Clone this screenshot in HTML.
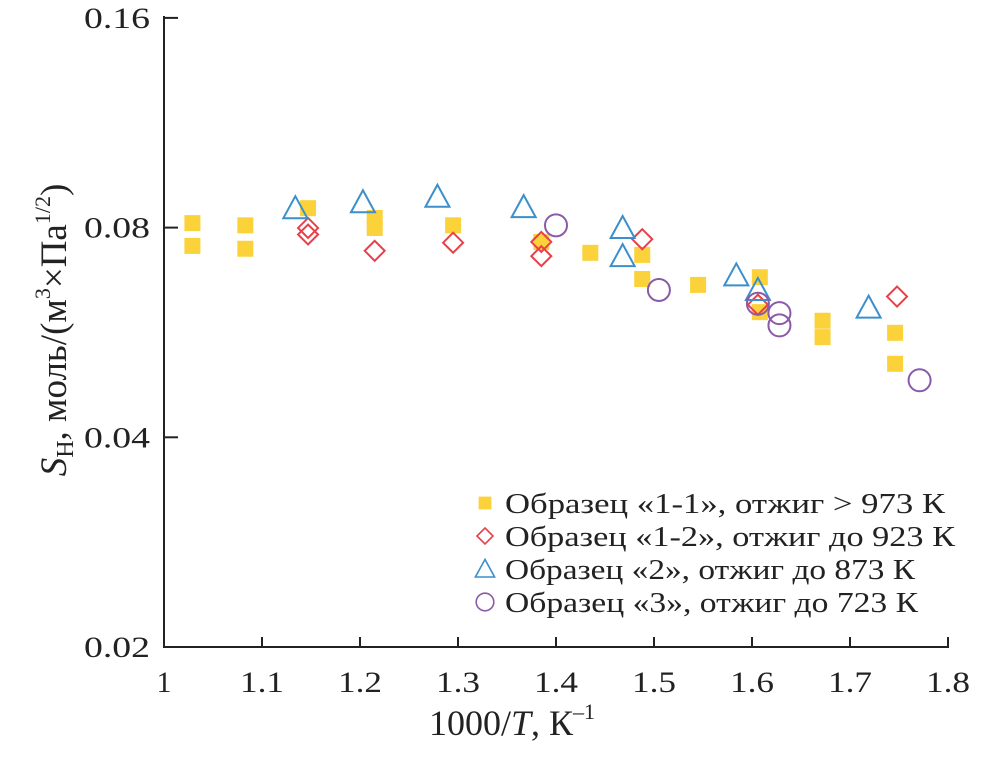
<!DOCTYPE html>
<html><head><meta charset="utf-8"><style>
body{margin:0;background:#fff}
svg text{font-family:"Liberation Serif",serif;fill:#222}
</style></head><body>
<svg id="c" width="1004" height="765"></svg>
<script>
const sqX=[1.029,1.029,1.083,1.083,1.147,1.215,1.215,1.295,1.385,1.435,1.488,1.488,1.545,1.608,1.608,1.672,1.672,1.746,1.746];
const sqY=[0.0812,0.0753,0.0806,0.0746,0.0853,0.0826,0.0799,0.0806,0.0763,0.0736,0.0731,0.0675,0.0662,0.0679,0.0605,0.0588,0.0557,0.0565,0.0510];
const diX=[1.147,1.147,1.215,1.295,1.385,1.385,1.488,1.606,1.748];
const diY=[0.0799,0.0782,0.0741,0.0761,0.0763,0.0728,0.0770,0.0620,0.0637];
const trX=[1.134,1.203,1.279,1.367,1.468,1.468,1.584,1.606,1.719];
const trY=[0.0853,0.0870,0.0886,0.0856,0.0799,0.0728,0.0683,0.0651,0.0614];
const ciX=[1.400,1.505,1.606,1.628,1.628,1.771];
const ciY=[0.0806,0.0651,0.0622,0.0603,0.0579,0.0483];
const xTicks=[1,1.1,1.2,1.3,1.4,1.5,1.6,1.7,1.8];
const xLabels=["1","1.1","1.2","1.3","1.4","1.5","1.6","1.7","1.8"];
const yTicks=[0.02,0.04,0.08,0.16];
const yLabels=["0.02","0.04","0.08","0.16"];
const NS="http://www.w3.org/2000/svg",svg=document.getElementById('c');
const sx=v=>164+(v-1)/0.8*784;
const sy=v=>647-Math.log2(v/0.02)*209.7;
function mk(t,a,p){const e=document.createElementNS(NS,t);for(const k in a)e.setAttribute(k,a[k]);(p||svg).appendChild(e);return e;}
let e=mk('line',{x1:164,y1:16,x2:164,y2:647,stroke:'#222','stroke-width':2});


e=mk('line',{x1:163,y1:647,x2:949,y2:647,stroke:'#222','stroke-width':2});


xTicks.forEach((v,i)=>{mk('line',{x1:sx(v),y1:647,x2:sx(v),y2:637,stroke:'#222','stroke-width':2});
 const a={x:sx(v),y:692,'text-anchor':'middle','font-size':30};
 if(xLabels[i].length>1){a.textLength=44;a.lengthAdjust='spacingAndGlyphs';}
 const t=mk('text',a);t.textContent=xLabels[i];
 
 });
yTicks.forEach((v,i)=>{mk('line',{x1:164,y1:sy(v),x2:178,y2:sy(v),stroke:'#222','stroke-width':2});
 const t=mk('text',{x:150,y:sy(v)+10,'text-anchor':'end','font-size':30,textLength:66,lengthAdjust:'spacingAndGlyphs'});t.textContent=yLabels[i];
 
 });
function sq(x,y){const e=mk('rect',{x:x-8,y:y-8,width:16,height:16,fill:'#fcd23a'});return e;}
function di(x,y){return mk('polygon',{points:`${x},${y-10} ${x+10},${y} ${x},${y+10} ${x-10},${y}`,fill:'none',stroke:'#e8404a','stroke-width':2});}
function tr(x,y){return mk('polygon',{points:`${x},${y-12} ${x+12},${y+10} ${x-12},${y+10}`,fill:'none',stroke:'#3a8fcc','stroke-width':2});}
function ci(x,y){return mk('circle',{cx:x,cy:y,r:11,fill:'none',stroke:'#8a5aa8','stroke-width':2});}
sqX.forEach((v,i)=>{const m=sq(sx(v),sy(sqY[i]));});
diX.forEach((v,i)=>{const m=di(sx(v),sy(diY[i]));});
trX.forEach((v,i)=>{const m=tr(sx(v),sy(trY[i]));});
ciX.forEach((v,i)=>{const m=ci(sx(v),sy(ciY[i]));});
const leg=[[sq,'Образец «1-1»,  отжиг > 973 К',440],[di,'Образец «1-2»,  отжиг до 923 К',450],[tr,'Образец «2», отжиг до 873 К',410],[ci,'Образец «3», отжиг до 723 К',413]];
leg.forEach((l,i)=>{const y=503+i*33;const m=l[0](485,y);m.setAttribute('transform',`translate(${485*0.2},${y*0.2}) scale(0.8)`);
 const t=mk('text',{x:505,y:y+10,'font-size':29,textLength:l[2],lengthAdjust:'spacingAndGlyphs'});t.textContent=l[1];
 
 });
</script>
<svg width="1004" height="765" style="position:absolute;left:0;top:0">
<text x="512" y="735" text-anchor="middle" font-size="36">1000/<tspan font-style="italic">T</tspan>, К<tspan font-size="22" dy="-16">–1</tspan></text>
<text transform="translate(66,330) rotate(-90)" text-anchor="middle" font-size="37"><tspan font-style="italic">S</tspan><tspan font-size="24" dy="7">H</tspan><tspan dy="-7">, моль/(м</tspan><tspan font-size="22" dy="-16">3</tspan><tspan dy="16">×Па</tspan><tspan font-size="22" dy="-16">1/2</tspan><tspan dy="16">)</tspan></text>
</svg>
</body></html>
